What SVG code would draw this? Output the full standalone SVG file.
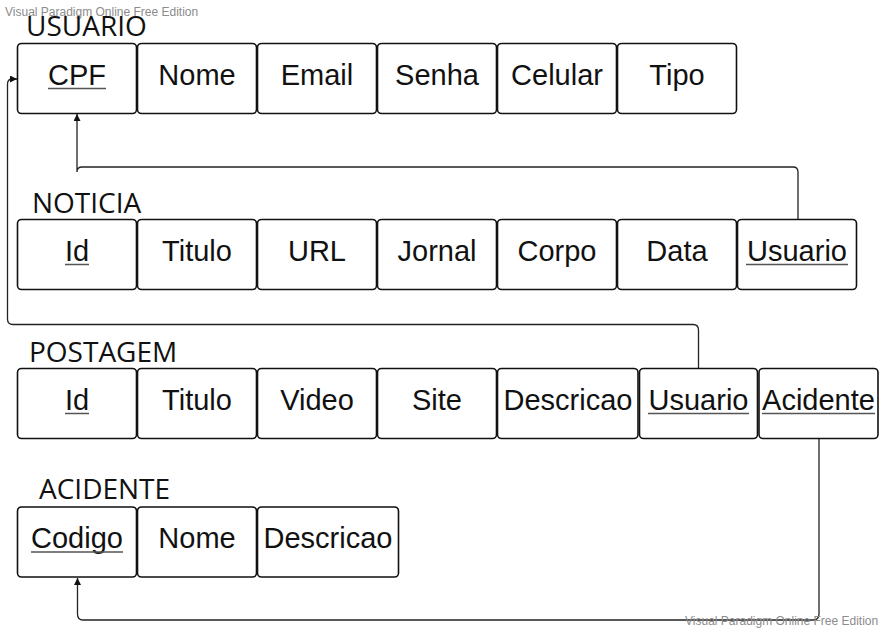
<svg xmlns="http://www.w3.org/2000/svg" width="881" height="630" viewBox="0 0 881 630">
<style>
.box{fill:#fff;stroke:#111;stroke-width:1.6}
.f{font-family:"Liberation Sans",Arial,sans-serif;font-size:29px;fill:#111;text-anchor:middle}
.t{font-family:"Open Sans","Noto Sans",sans-serif;font-size:28px;fill:#111}
.u{stroke:#555;stroke-width:1.5}
.c{fill:none;stroke:#222;stroke-width:1.3}
.wm{font-family:"Liberation Sans",Arial,sans-serif;font-size:12px;fill:#8c8c8c}
</style>
<defs>
<marker id="ar" markerWidth="8" markerHeight="7" refX="7" refY="3.5" orient="auto" markerUnits="userSpaceOnUse">
<path d="M0,0 L7,3.5 L0,7 z" fill="#111"/>
</marker>
</defs>
<rect width="881" height="630" fill="#fff"/>
<text class="wm" x="5" y="16">Visual Paradigm Online Free Edition</text>

<g id="connectors">
<path class="c" d="M798 219.5 V172 Q798 167 793 167 H82 Q77 167 77 172 V114" marker-end="url(#ar)"/>
<path class="c" d="M698.5 368.5 V330 Q698.5 324.5 693 324.5 H13 Q7.5 324.5 7.5 319 V84 Q7.5 79 12.5 79 H17" marker-end="url(#ar)"/>
<path class="c" d="M819 438.5 V614 Q819 620 813 620 H83 Q77.5 620 77.5 614 V578" marker-end="url(#ar)"/>
</g>

<g id="USUARIO">
<text class="t" x="26" y="36">USUARIO</text>
<rect class="box" x="17.5" y="43.5" width="119" height="70" rx="4"/>
<rect class="box" x="137.5" y="43.5" width="119" height="70" rx="4"/>
<rect class="box" x="257.5" y="43.5" width="119" height="70" rx="4"/>
<rect class="box" x="377.5" y="43.5" width="119" height="70" rx="4"/>
<rect class="box" x="497.5" y="43.5" width="119" height="70" rx="4"/>
<rect class="box" x="617.5" y="43.5" width="119" height="70" rx="4"/>
<text class="f" x="77" y="84.5">CPF</text>
<line class="u" x1="48" y1="88.5" x2="106" y2="88.5"/>
<text class="f" x="197" y="84.5">Nome</text>
<text class="f" x="317" y="84.5">Email</text>
<text class="f" x="437" y="84.5">Senha</text>
<text class="f" x="557" y="84.5">Celular</text>
<text class="f" x="677" y="84.5">Tipo</text>
</g>

<g id="NOTICIA">
<text class="t" x="32" y="213">NOTICIA</text>
<rect class="box" x="17.5" y="219.5" width="119" height="70" rx="4"/>
<rect class="box" x="137.5" y="219.5" width="119" height="70" rx="4"/>
<rect class="box" x="257.5" y="219.5" width="119" height="70" rx="4"/>
<rect class="box" x="377.5" y="219.5" width="119" height="70" rx="4"/>
<rect class="box" x="497.5" y="219.5" width="119" height="70" rx="4"/>
<rect class="box" x="617.5" y="219.5" width="119" height="70" rx="4"/>
<rect class="box" x="737.5" y="219.5" width="119" height="70" rx="4"/>
<text class="f" x="77" y="260.5">Id</text>
<line class="u" x1="65" y1="264.5" x2="89" y2="264.5"/>
<text class="f" x="197" y="260.5">Titulo</text>
<text class="f" x="317" y="260.5">URL</text>
<text class="f" x="437" y="260.5">Jornal</text>
<text class="f" x="557" y="260.5">Corpo</text>
<text class="f" x="677" y="260.5">Data</text>
<text class="f" x="797" y="260.5">Usuario</text>
<line class="u" x1="746" y1="264.5" x2="848" y2="264.5"/>
</g>

<g id="POSTAGEM">
<text class="t" x="29" y="362">POSTAGEM</text>
<rect class="box" x="17.5" y="368.5" width="119" height="70" rx="4"/>
<rect class="box" x="137.5" y="368.5" width="119" height="70" rx="4"/>
<rect class="box" x="257.5" y="368.5" width="119" height="70" rx="4"/>
<rect class="box" x="377.5" y="368.5" width="119" height="70" rx="4"/>
<rect class="box" x="497.5" y="368.5" width="140.5" height="70" rx="4"/>
<rect class="box" x="639.5" y="368.5" width="118" height="70" rx="4"/>
<rect class="box" x="759" y="368.5" width="119" height="70" rx="4"/>
<text class="f" x="77" y="409.5">Id</text>
<line class="u" x1="65" y1="413.5" x2="89" y2="413.5"/>
<text class="f" x="197" y="409.5">Titulo</text>
<text class="f" x="317" y="409.5">Video</text>
<text class="f" x="437" y="409.5">Site</text>
<text class="f" x="568" y="409.5">Descricao</text>
<text class="f" x="698.5" y="409.5">Usuario</text>
<line class="u" x1="648" y1="413.5" x2="749" y2="413.5"/>
<text class="f" x="818.5" y="409.5">Acidente</text>
<line class="u" x1="762" y1="413.5" x2="875" y2="413.5"/>
</g>

<g id="ACIDENTE">
<text class="t" x="39" y="498.5">ACIDENTE</text>
<rect class="box" x="17.5" y="507" width="119" height="70" rx="4"/>
<rect class="box" x="137.5" y="507" width="119" height="70" rx="4"/>
<rect class="box" x="257.5" y="507" width="141" height="70" rx="4"/>
<text class="f" x="77" y="548">Codigo</text>
<line class="u" x1="31" y1="552" x2="123" y2="552"/>
<text class="f" x="197" y="548">Nome</text>
<text class="f" x="328" y="548">Descricao</text>
</g>

<text class="wm" x="685" y="625">Visual Paradigm Online Free Edition</text>
</svg>
